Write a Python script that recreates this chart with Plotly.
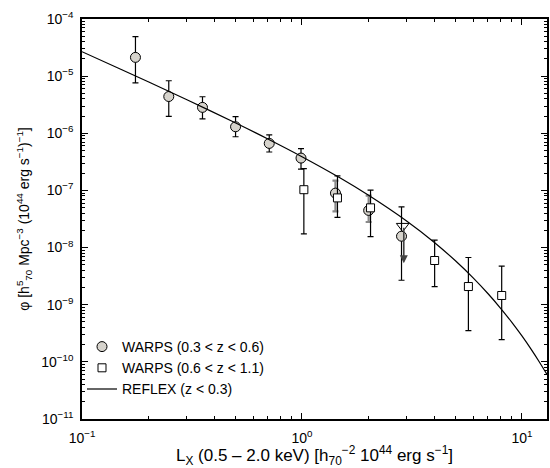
import plotly.graph_objects as go
import numpy as np

# WARPS (0.3 < z < 0.6)
lo_L = [0.175, 0.248, 0.353, 0.499, 0.71, 0.99, 1.42, 2.01, 2.835]
lo_phi = [2.13e-5, 4.4e-6, 2.84e-6, 1.3e-6, 6.65e-7, 3.68e-7, 8.97e-8, 4.47e-8, 1.58e-8]
lo_up = [4.9e-5, 8.3e-6, 4.36e-6, 1.95e-6, 9.4e-7, 5.37e-7, 1.48e-7, 8.1e-8, 5.16e-8]
lo_dn = [7.6e-6, 1.98e-6, 1.79e-6, 8.7e-7, 4.7e-7, 2.36e-7, 4.3e-8, 2.8e-8, 2.68e-9]
lo_gray = [False, False, False, False, False, False, True, True, False]

# WARPS (0.6 < z < 1.1)
hi_L = [1.02, 1.45, 2.05, 4.01, 5.71, 8.09]
hi_phi = [1.03e-7, 7.4e-8, 4.96e-8, 5.94e-9, 2.08e-9, 1.45e-9]
hi_up = [2.4e-7, 1.8e-7, 1.01e-7, 1.35e-8, 6.7e-9, 4.72e-9]
hi_dn = [1.74e-8, 3.37e-8, 1.56e-8, 2.08e-9, 3.53e-10, 2.45e-10]

# upper limit (0.6 < z < 1.1)
lim_L = [2.87]
lim_phi = [2.37e-8]
lim_tip = [5.3e-9]

# REFLEX (z < 0.3) curve
rf_L = [0.1, 0.15, 0.2, 0.3, 0.5, 0.7, 1.0, 1.5, 2.0, 3.0, 4.0, 5.0, 6.0, 7.0, 8.0, 9.0, 10.0, 11.0, 12.0, 13.0]
rf_phi = [2.68e-5, 1.32e-5, 7.98e-6, 3.87e-6, 1.51e-6, 7.94e-7, 3.89e-7, 1.63e-7, 8.30e-8, 2.89e-8,
          1.23e-8, 5.81e-9, 2.95e-9, 1.57e-9, 8.67e-10, 4.91e-10, 2.84e-10, 1.67e-10, 9.96e-11, 6.01e-11]

x_ticks = [0.1, 1, 10]
x_ticktext = ["10<sup>−1</sup>", "10<sup>0</sup>", "10<sup>1</sup>"]
y_ticks = [1e-11, 1e-10, 1e-9, 1e-8, 1e-7, 1e-6, 1e-5, 1e-4]
y_ticktext = ["10<sup>−11</sup>", "10<sup>−10</sup>", "10<sup>−9</sup>", "10<sup>−8</sup>",
              "10<sup>−7</sup>", "10<sup>−6</sup>", "10<sup>−5</sup>", "10<sup>−4</sup>"]

x_minor = [m * 10.0 ** e for e in (-1, 0, 1) for m in range(2, 10)]
y_minor = [m * 10.0 ** e for e in range(-11, -4) for m in range(2, 10)]

FONT = "Liberation Sans, Arial, Helvetica, sans-serif"
fig = go.Figure()

def sel(arr, mask, val):
    return [a for a, m in zip(arr, mask) if m == val]

circ_marker = dict(symbol="circle", size=10, color="#d6d3cc", line=dict(color="black", width=1))
for gray in (False, True):
    L = sel(lo_L, lo_gray, gray)
    p = sel(lo_phi, lo_gray, gray)
    u = sel(lo_up, lo_gray, gray)
    d = sel(lo_dn, lo_gray, gray)
    fig.add_trace(go.Scatter(
        x=L, y=p, mode="markers", marker=circ_marker,
        name="WARPS (0.3 < z < 0.6)", showlegend=not gray, legendrank=1,
        error_y=dict(type="data", symmetric=False,
                     array=[a - b for a, b in zip(u, p)],
                     arrayminus=[b - a for a, b in zip(d, p)],
                     color="#8a8a8a" if gray else "black",
                     thickness=2.2 if gray else 1.2, width=3),
    ))

fig.add_trace(go.Scatter(
    x=hi_L, y=hi_phi, mode="markers",
    marker=dict(symbol="square", size=8, color="white", line=dict(color="black", width=1)),
    name="WARPS (0.6 < z < 1.1)", legendrank=2,
    error_y=dict(type="data", symmetric=False,
                 array=[a - b for a, b in zip(hi_up, hi_phi)],
                 arrayminus=[b - a for a, b in zip(hi_dn, hi_phi)],
                 color="black", thickness=1.2, width=3),
))

fig.add_trace(go.Scatter(
    x=rf_L, y=rf_phi, mode="lines", line=dict(color="black", width=1.2, shape="spline"),
    name="REFLEX (z < 0.3)", legendrank=3,
))

fig.add_trace(go.Scatter(
    x=lim_L, y=lim_phi, mode="markers", showlegend=False,
    marker=dict(symbol="triangle-down-open", size=11, color="black", line=dict(width=1)),
))

for L, p, t in zip(lim_L, lim_phi, lim_tip):
    fig.add_annotation(x=np.log10(L) + 0.005, y=np.log10(t), ax=np.log10(L) + 0.005, ay=np.log10(p),
                       xref="x", yref="y", axref="x", ayref="y", showarrow=True,
                       arrowhead=2, arrowsize=1, arrowwidth=1.6, arrowcolor="#444", text="")

axis_common = dict(type="log", showline=True, linecolor="black", linewidth=1.5, mirror="allticks",
                   ticks="inside", ticklen=6, tickwidth=1, tickcolor="black", showgrid=False, zeroline=False,
                   tickmode="array",
                   tickfont=dict(family=FONT, size=14, color="black"))

fig.update_xaxes(**axis_common, range=[-1, np.log10(13)], tickvals=x_ticks, ticktext=x_ticktext,
                 minor=dict(ticks="inside", ticklen=3, tickwidth=1, tickcolor="black", showgrid=False,
                            tickmode="array", tickvals=x_minor),
                 ticklabelstandoff=5,
                 title=dict(text="L<sub>X</sub> (0.5 – 2.0 keV) [h<sub>70</sub><sup>−2</sup> 10<sup>44</sup> erg s<sup>−1</sup>]",
                            font=dict(family=FONT, size=17, color="black"), standoff=0))
fig.update_yaxes(**axis_common, range=[-11, -4], tickvals=y_ticks, ticktext=y_ticktext,
                 minor=dict(ticks="inside", ticklen=3, tickwidth=1, tickcolor="black", showgrid=False,
                            tickmode="array", tickvals=y_minor),
                 ticklabelstandoff=4,
                 title=dict(text="φ [h<sup>5</sup><sub>70</sub> Mpc<sup>−3</sup> (10<sup>44</sup> erg s<sup>−1</sup>)<sup>−1</sup>]",
                            font=dict(family=FONT, size=14, color="black"), standoff=8))

fig.update_layout(
    width=550, height=468,
    margin=dict(l=82, r=1, t=19, b=49),
    paper_bgcolor="white", plot_bgcolor="white",
    font=dict(family=FONT, size=14, color="black"),
    legend=dict(x=0.0, y=0.035, xanchor="left", yanchor="bottom", bgcolor="rgba(0,0,0,0)",
                font=dict(family=FONT, size=14, color="black"), tracegroupgap=0,
                itemwidth=30, borderwidth=0),
)

fig.write_html("out.html")
